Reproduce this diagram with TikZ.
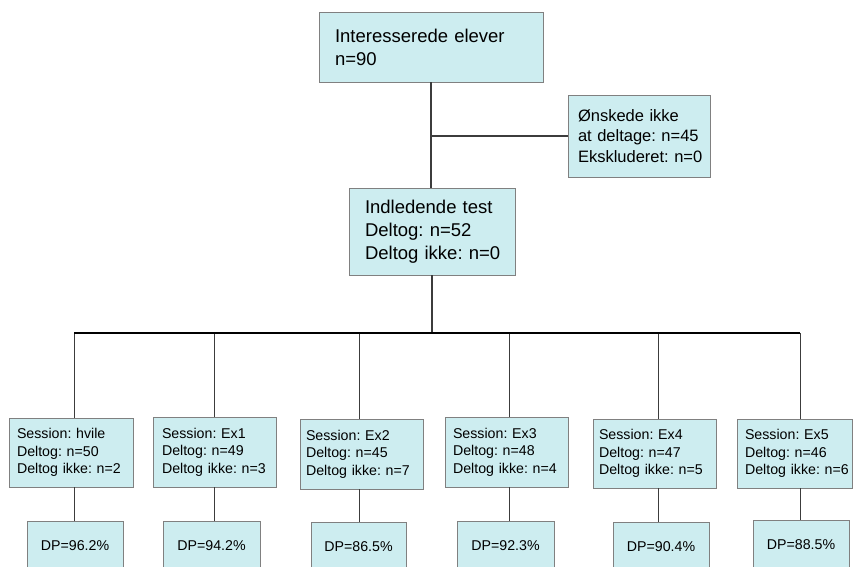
\documentclass[tikz,border=0pt]{standalone}
\usepackage{fontspec}
\setmainfont{Liberation Sans}
\definecolor{boxfill}{RGB}{205,237,240}
\definecolor{boxline}{RGB}{128,128,128}
\definecolor{linkcol}{RGB}{60,60,60}
\hfuzz=100pt
\frenchspacing
\begin{document}
\begin{tikzpicture}[x=1pt,y=-1pt,
  box/.style={draw=boxline, fill=boxfill, line width=1pt, anchor=north west,
    align=left, inner ysep=0pt, outer sep=0pt},
  bigtext/.style={font=\fontsize{18.5}{23}\selectfont},
  midtext/.style={font=\fontsize{16.5}{20.5}\selectfont},
  smalltext/.style={font=\fontsize{14.2}{17.5}\selectfont},
  result/.style={box, smalltext, align=center, inner xsep=0pt, minimum height=50pt},
  link/.style={draw=linkcol, line width=1.6pt},
  thinlink/.style={draw=linkcol, line width=1pt},
  bar/.style={draw=black, line width=2.5pt}]
\useasboundingbox (0,0) rectangle (855,566);
\clip (0,0) rectangle (855,566);

% upper part
\node[box, bigtext, inner xsep=16pt, text width=192pt, minimum height=70pt] (top) at (319,12)
  {\mbox{Interesserede elever}\\\mbox{n=90}};
\node[box, midtext, inner xsep=10pt, text width=122pt, minimum height=82pt] (ons) at (568,95)
  {\mbox{Ønskede ikke}\\\mbox{at deltage: n=45}\\\mbox{Ekskluderet: n=0}};
\node[box, bigtext, inner xsep=16pt, text width=134pt, minimum height=87pt] (ind) at (349,188)
  {\mbox{Indledende test}\\\mbox{Deltog: n=52}\\\mbox{Deltog ikke: n=0}};

\draw[link] (top.south) -- (top.south |- ind.north);
\draw[link] (ons.west) -- (ons.west -| top.south);
\draw[link] (ind.south) -- (ind.south |- 0,333) coordinate (hub);

% sessions
\node[box, smalltext, inner xsep=8pt, text width=108pt, minimum height=69pt] (s1) at (9,418)
  {\mbox{Session: hvile}\\\mbox{Deltog: n=50}\\\mbox{Deltog ikke: n=2}};
\node[box, smalltext, inner xsep=9pt, text width=105pt, minimum height=70pt] (s2) at (153,417)
  {\mbox{Session: Ex1}\\\mbox{Deltog: n=49}\\\mbox{Deltog ikke: n=3}};
\node[box, smalltext, inner xsep=6pt, text width=111pt, minimum height=70pt] (s3) at (300,419)
  {\mbox{Session: Ex2}\\\mbox{Deltog: n=45}\\\mbox{Deltog ikke: n=7}};
\node[box, smalltext, inner xsep=8pt, text width=107pt, minimum height=70pt] (s4) at (445,417)
  {\mbox{Session: Ex3}\\\mbox{Deltog: n=48}\\\mbox{Deltog ikke: n=4}};
\node[box, smalltext, inner xsep=6pt, text width=111pt, minimum height=69pt] (s5) at (593,419)
  {\mbox{Session: Ex4}\\\mbox{Deltog: n=47}\\\mbox{Deltog ikke: n=5}};
\node[box, smalltext, inner xsep=8pt, text width=99pt, minimum height=69pt] (s6) at (737,419)
  {\mbox{Session: Ex5}\\\mbox{Deltog: n=46}\\\mbox{Deltog ikke: n=6}};

% results
\node[result, text width=96pt] (d1) at (27,521) {DP=96.2\%};
\node[result, text width=97pt] (d2) at (163,521) {DP=94.2\%};
\node[result, text width=95pt] (d3) at (311,522) {DP=86.5\%};
\node[result, text width=97pt] (d4) at (457,521) {DP=92.3\%};
\node[result, text width=96pt] (d5) at (613,522) {DP=90.4\%};
\node[result, text width=96pt] (d6) at (753,520) {DP=88.5\%};

% branch points on the bar
\coordinate (b1) at (74,333);
\coordinate (b2) at (214,333);
\coordinate (b3) at (359,333);
\coordinate (b4) at (509,333);
\coordinate (b5) at (658,333);
\coordinate (b6) at (800,333);

\foreach \i in {1,...,6}{
  \draw[thinlink] (b\i) -- (b\i |- s\i.north);
  \draw[thinlink] (b\i |- s\i.south) -- (b\i |- d\i.north);
}
\draw[bar] (b1) -- (b6);
\end{tikzpicture}
\end{document}
